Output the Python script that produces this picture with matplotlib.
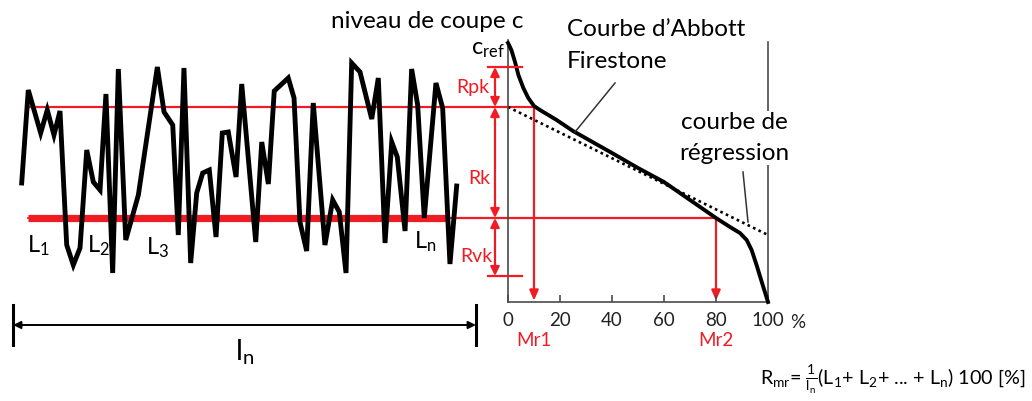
import matplotlib
matplotlib.use("Agg")
import matplotlib.pyplot as plt
from matplotlib.patches import ConnectionPatch
from matplotlib.transforms import blended_transform_factory as blend

plt.rcParams['font.family'] = ['Lato', 'DejaVu Sans']
plt.rcParams['mathtext.fontset'] = 'custom'
plt.rcParams['mathtext.rm'] = 'Lato'
plt.rcParams['mathtext.it'] = 'Lato:italic'
plt.rcParams['mathtext.bf'] = 'Lato:bold'
plt.rcParams['mathtext.default'] = 'regular'

# roughness profile: position along the evaluation length (mm) and height (µm)
profile_x = [0.075, 0.132, 0.239, 0.296, 0.354, 0.406, 0.464, 0.521, 0.579, 0.637,
             0.694, 0.752, 0.803, 0.861, 0.910, 0.974, 1.083, 1.247, 1.305, 1.380,
             1.428, 1.477, 1.535, 1.587, 1.639, 1.696, 1.754, 1.808, 1.860, 1.927,
             1.976, 2.097, 2.149, 2.206, 2.257, 2.378, 2.428, 2.479, 2.537, 2.594,
             2.695, 2.762, 2.819, 2.877, 2.926, 2.998, 3.099, 3.156, 3.214, 3.272,
             3.320, 3.387, 3.444, 3.496, 3.553, 3.654, 3.712, 3.775, 3.833]
profile_z = [11.9, 21.2, 16.9, 19.2, 16.7, 19.1, 5.7, 3.7, 5.4, 15.2,
             12.0, 11.2, 20.8, 2.9, 23.3, 6.2, 10.7, 23.5, 19.0, 17.7,
             6.7, 23.4, 3.9, 10.9, 12.9, 13.2, 6.5, 16.9, 17.0, 12.5,
             21.8, 6.0, 16.0, 11.8, 21.1, 22.4, 20.4, 8.0, 5.1, 19.9,
             5.7, 10.2, 9.0, 2.9, 23.9, 23.0, 18.3, 22.4, 5.9, 16.0,
             14.5, 7.1, 23.3, 19.7, 8.4, 21.9, 19.4, 3.8, 11.6]

# Abbott-Firestone (bearing ratio) curve: material ratio (%) vs. cut level (µm)
abbott_mr = [0, 1.3, 2.7, 4.0, 5.9, 7.8, 10, 12.3, 18.7, 25, 40, 50, 60, 70, 80,
             85.4, 89.2, 91.8, 93.7, 95.6, 97.6, 100]
abbott_z = [25.9, 25.2, 24.0, 22.7, 21.4, 20.4, 19.6, 19.2, 18.2, 17.1, 14.9, 13.4,
            12.0, 10.2, 8.4, 7.5, 6.9, 6.2, 5.2, 3.7, 2.0, 0.0]

# regression line through the core zone
regression_mr = [0, 100]
regression_z = [19.5, 6.7]

# characteristic levels (µm) and material ratios (%)
c_ref = 23.5
c_top = 19.5
c_bottom = 8.4
c_min = 2.6
mr1 = 10
mr2 = 80
ln = 4.0

xticks = [0, 20, 40, 60, 80, 100]
xtick_labels = ["0", "20", "40", "60", "80", "100"]

RED = '#f01c24'
GREY = '#4a4a4a'
W, H = 1032, 401

fig = plt.figure(figsize=(W / 100, H / 100), dpi=100)


def box(x0, y_top, x1, y_bottom):
    return [x0 / W, 1 - y_bottom / H, (x1 - x0) / W, (y_bottom - y_top) / H]


ZMAX = 26.2

# --- profile ---
ax_prof = fig.add_axes(box(13, 40, 476, 302))
ax_prof.set_xlim(0, ln)
ax_prof.set_ylim(0, ZMAX)
ax_prof.axis('off')

ax_prof.plot([0.13, 3.75], [c_bottom, c_bottom], color=RED, lw=5.2,
             solid_capstyle='butt', zorder=1, clip_on=False)
ax_prof.plot(profile_x, profile_z, color='black', lw=3.5,
             solid_joinstyle='miter', zorder=3, clip_on=False)

# --- bearing-ratio curve ---
ax_ab = fig.add_axes(box(508, 40, 768, 302))
ax_ab.set_xlim(0, 100)
ax_ab.set_ylim(0, ZMAX)
ax_ab.patch.set_visible(False)
for side in ('top', 'right'):
    ax_ab.spines[side].set_visible(False)
for side in ('left', 'bottom'):
    ax_ab.spines[side].set_color(GREY)
    ax_ab.spines[side].set_linewidth(1.2)
ax_ab.set_yticks([])
ax_ab.set_xticks(xticks)
ax_ab.set_xticklabels(xtick_labels)
ax_ab.tick_params(axis='x', direction='in', length=5, width=1.2, color=GREY,
                  labelsize=13.5, pad=7, labelcolor='#222222')

ax_ab.plot([100, 100], [0, 26.0], color=GREY, lw=1.2, clip_on=False, zorder=1)
for mr, level in ((mr1, c_top), (mr2, c_bottom)):
    ax_ab.annotate('', xy=(mr, 0.15), xytext=(mr, level),
                   arrowprops=dict(arrowstyle='-|>,head_length=0.5,head_width=0.22',
                                   color=RED, lw=1.6, shrinkA=0, shrinkB=0,
                                   mutation_scale=12), zorder=1)
ax_ab.plot(regression_mr, regression_z, color='black', lw=1.9,
           dashes=(1.0, 1.3), zorder=2, clip_on=False)
ax_ab.plot(abbott_mr, abbott_z, color='black', lw=2.8, zorder=3, clip_on=False,
           solid_joinstyle='round')

# horizontal cut levels running from the profile to the curve
for level, mr in ((c_top, mr1), (c_bottom, mr2)):
    con = ConnectionPatch(xyA=(0.13, level), coordsA=ax_prof.transData,
                          xyB=(mr, level), coordsB=ax_ab.transData,
                          color=RED, lw=1.6)
    con.set_zorder(-1)
    fig.add_artist(con)

# --- annotations ---
ov = fig.add_axes([0, 0, 1, 1])
ov.set_xlim(0, W)
ov.set_ylim(H, 0)
ov.axis('off')

tz = blend(ov.transData, ax_ab.transData)
head = 'head_length=0.45,head_width=0.22'
for z0, z1 in ((c_top, c_ref), (c_bottom, c_top), (c_min, c_bottom)):
    ov.annotate('', xy=(495, z1), xytext=(495, z0), xycoords=tz, textcoords=tz,
                arrowprops=dict(arrowstyle='<|-|>,' + head, color=RED, lw=1.6,
                                shrinkA=0, shrinkB=0, mutation_scale=12))
for level in (c_ref, c_min):
    ov.plot([488, 522], [level, level], color=RED, lw=1.6, transform=tz)

ov.text(473, 87, "Rpk", color=RED, fontsize=14, ha='center', va='center')
ov.text(479, 178, "Rk", color=RED, fontsize=14, ha='center', va='center')
ov.text(476, 257, "Rvk", color=RED, fontsize=14, ha='center', va='center')

tmr = blend(ax_ab.transData, ov.transData)
ov.text(mr1, 341, "Mr1", color=RED, fontsize=13.5, ha='center', va='center', transform=tmr)
ov.text(mr2, 341, "Mr2", color=RED, fontsize=13.5, ha='center', va='center', transform=tmr)
ov.text(790, 322, "%", fontsize=13.5, ha='left', va='center', color='#222222')

ov.text(427, 21, "niveau de coupe c", fontsize=17.5, ha='center', va='center')
ov.text(488, 50, "c$_{ref}$", fontsize=17, ha='center', va='center')
ov.text(567, 29, "Courbe d’Abbott", fontsize=17.5, ha='left', va='center')
ov.text(567, 62, "Firestone", fontsize=17.5, ha='left', va='center')
ov.text(734, 138, "courbe de\nrégression", fontsize=17.5, ha='center', va='center',
        linespacing=1.55, bbox=dict(facecolor='white', edgecolor='none', pad=1))
ov.plot([615, 575], [83, 132], color='#333333', lw=1.1)
ov.plot([743, 748], [172, 222], color='#333333', lw=1.1)

for label, x, y in (("L$_1$", 38, 246), ("L$_2$", 98, 246),
                    ("L$_3$", 158, 248), ("L$_n$", 425, 242)):
    ov.text(x, y, label, fontsize=17, ha='center', va='center')

# evaluation length dimension
tl = blend(ax_prof.transData, ov.transData)
ov.annotate('', xy=(ln, 325), xytext=(0, 325), xycoords=tl, textcoords=tl,
            arrowprops=dict(arrowstyle='<|-|>,' + head, color='black', lw=1.4,
                            shrinkA=0, shrinkB=0, mutation_scale=10))
for x in (0, ln):
    ov.plot([x, x], [305, 345], color='black', lw=2.2, transform=tl)
ov.text(ln / 2, 352, "l$_n$", fontsize=21, ha='center', va='center', transform=tl)

ov.text(760, 380, r"R$_{mr}$= $\frac{1}{l_n}$(L$_1$+ L$_2$+ ... + L$_n$) 100 [%]",
        fontsize=14.2, ha='left', va='center')

fig.savefig("out.png", dpi=100)
